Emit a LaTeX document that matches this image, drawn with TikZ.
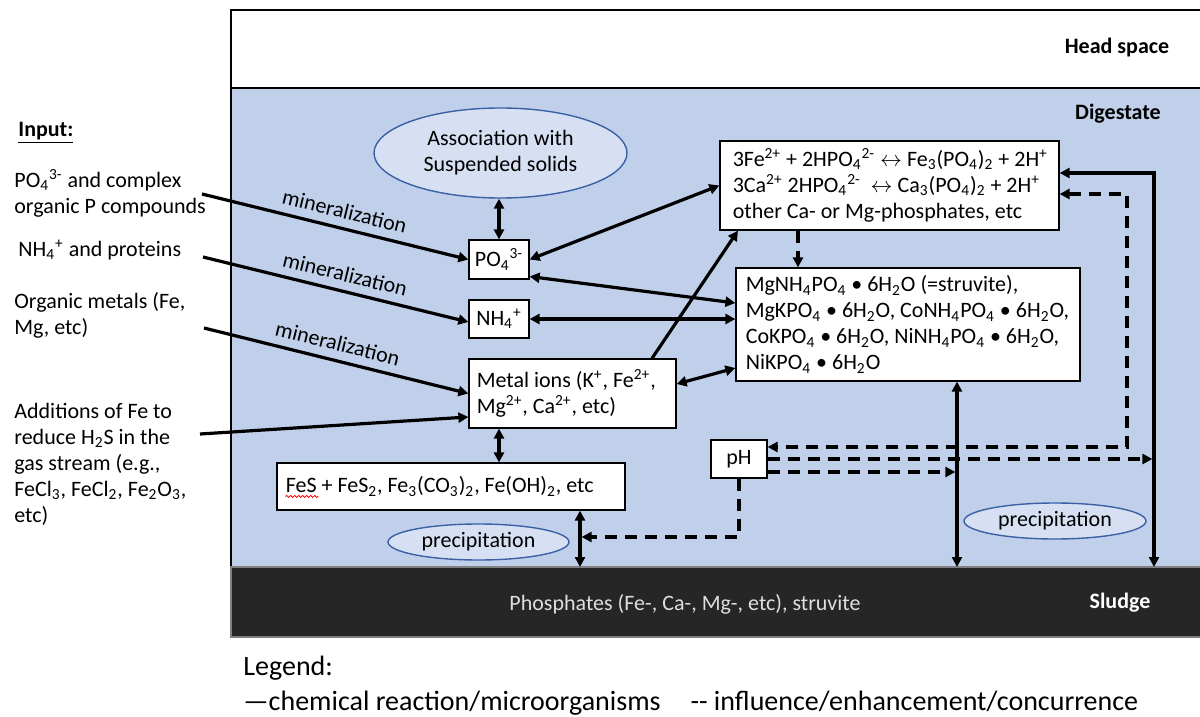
\documentclass[tikz,border=0pt]{standalone}
\usepackage{fontspec}
\setmainfont{Carlito}
\usetikzlibrary{arrows.meta,shapes.geometric,calc,decorations.pathmorphing}

\definecolor{digest}{RGB}{193,208,234}
\definecolor{ovalfill}{RGB}{214,224,242}
\definecolor{ovalline}{RGB}{58,96,165}
\definecolor{sludgefill}{RGB}{38,38,38}
\definecolor{phostext}{RGB}{222,222,222}

\newcommand\chsb[1]{\textsubscript{#1}}
\newcommand\chsp[1]{\textsuperscript{#1}}
\newcommand\bodyfont{\fontsize{11}{13}\selectfont}
\newcommand\legendfont{\fontsize{14}{17}\selectfont}

\begin{document}
\begin{tikzpicture}[x=0.5pt, y=-0.5pt, font=\bodyfont,
  >={Triangle[length=5pt,width=5pt]},
  band/.style={draw=black, line width=0.6pt, inner sep=0, outer sep=0, anchor=north west},
  box/.style={draw=black, line width=0.6pt, fill=white, inner sep=0},
  oval/.style={ellipse, draw=ovalline, line width=0.7pt, fill=ovalfill, inner sep=0, align=center},
  boxtext/.style={inner sep=0, anchor=west, align=left},
  rxn/.style={line width=1.6pt, <->},
  rxnto/.style={line width=1.6pt, ->},
  infl/.style={line width=1.6pt, dash pattern=on 6pt off 4pt},
  lbl/.style={sloped, above=3pt, inner sep=1pt},
  spell/.style={draw=red, line width=0.4pt, decorate, decoration={snake, amplitude=0.5pt, segment length=2pt}}]

\useasboundingbox (0,0) rectangle (1200,717);

% digester layers
\node[band, fill=white, minimum width=490pt, minimum height=39pt] (head) at (231,10) {};
\node[band, fill=digest, minimum width=490pt, minimum height=239.5pt] (dig) at (231,88) {};
\node[band, draw=black!50, fill=sludgefill, minimum width=490pt, minimum height=35pt] (sludge) at (231,567) {};

\node[font=\bodyfont\bfseries] (headlbl) at (1117,48) {Head space};
\node[font=\bodyfont\bfseries] (diglbl) at (1118,114) {Digestate};
\node[font=\bodyfont\bfseries, text=white] (sludgelbl) at (1120,603) {Sludge};
\node[text=phostext] (phos) at (685,604) {Phosphates (Fe-, Ca-, Mg-, etc), struvite};

% ovals
\node[oval, minimum width=126.5pt, minimum height=45pt] (assoc) at (500.5,153) {Association with\\Suspended solids};
\node[oval, minimum width=90.5pt, minimum height=18pt] (precipL) at (478.5,542) {precipitation};
\node[oval, minimum width=91pt, minimum height=18pt] (precipR) at (1055,521) {precipitation};

% boxes
\node[box, minimum width=169.5pt, minimum height=44.5pt] (rx) at (889.5,185.5) {};
\node[boxtext] (rxtext) at ([xshift=6.5pt]rx.west) {3Fe\chsp{2+} + 2HPO\chsb{4}\chsp{2-} $\leftrightarrow$ Fe\chsb{3}(PO\chsb{4})\chsb{2} + 2H\chsp{+}\\3Ca\chsp{2+} 2HPO\chsb{4}\chsp{2-}\ \ $\leftrightarrow$ Ca\chsb{3}(PO\chsb{4})\chsb{2} + 2H\chsp{+}\\other Ca- or Mg-phosphates, etc};

\node[box, minimum width=172pt, minimum height=56.5pt] (sv) at (908,324.5) {};
\node[boxtext] (svtext) at ([xshift=5pt]sv.west) {MgNH\chsb{4}PO\chsb{4} • 6H\chsb{2}O (=struvite),\\MgKPO\chsb{4} • 6H\chsb{2}O, CoNH\chsb{4}PO\chsb{4} • 6H\chsb{2}O,\\CoKPO\chsb{4} • 6H\chsb{2}O, NiNH\chsb{4}PO\chsb{4} • 6H\chsb{2}O,\\NiKPO\chsb{4} • 6H\chsb{2}O};

\node[box, minimum width=30pt, minimum height=19.5pt] (po4) at (499,259.5) {PO\chsb{4}\chsp{3-}};
\node[box, minimum width=30pt, minimum height=19pt] (nh4) at (499,319) {NH\chsb{4}\chsp{+}};

\node[box, minimum width=103.5pt, minimum height=34.5pt] (metal) at (572.5,393.5) {};
\node[boxtext] (metaltext) at ([xshift=4pt]metal.west) {Metal ions (K\chsp{+}, Fe\chsp{2+},\\Mg\chsp{2+}, Ca\chsp{2+}, etc)};

\node[box, minimum width=174pt, minimum height=23.5pt] (fes) at (451,486.5) {};
\node[boxtext] (festext) at ([xshift=4.5pt]fes.west) {FeS + FeS\chsb{2}, Fe\chsb{3}(CO\chsb{3})\chsb{2}, Fe(OH)\chsb{2}, etc};
\draw[spell] ([yshift=-1.8pt]festext.base west) -- ++(16.5pt,0);

\node[box, minimum width=28pt, minimum height=19pt] (ph) at (739,459) {pH};

% inputs
\node[boxtext, font=\bodyfont\bfseries] (inhead) at (18,133) {\underline{Input:}};
\node[boxtext] (in1) at (14,193.5) {PO\chsb{4}\chsp{3-} and complex\\organic P compounds};
\node[boxtext] (in2) at (18,250) {NH\chsb{4}\chsp{+} and proteins};
\node[boxtext] (in3) at (14,315) {Organic metals (Fe,\\Mg, etc)};
\node[boxtext] (in4) at (14,464) {Additions of Fe to\\reduce H\chsb{2}S in the\\gas stream (e.g.,\\FeCl\chsb{3}, FeCl\chsb{2}, Fe\chsb{2}O\chsb{3},\\etc)};

\coordinate (c1) at (202,194);
\coordinate (c2) at (203,257);
\coordinate (c3) at (204,328);
\coordinate (c4) at (200,434);

% feet of the lines reaching the sludge
\coordinate (sL) at (580,567);
\coordinate (sM) at (957,567);
\coordinate (sR) at (1154,567);
\coordinate (fesmid) at (580,537);
\coordinate (loop) at (1127,447);
\coordinate (rxb) at ([xshift=-45.75pt]rx.south);

% chemical reactions / microorganisms
\draw[rxnto] (c1) -- node[lbl, pos=0.52] {mineralization} (po4.west);
\draw[rxnto] (c2) -- node[lbl, pos=0.52] {mineralization} ([yshift=-1.5pt]nh4.west);
\draw[rxnto] (c3) -- node[lbl, pos=0.49] {mineralization} (metal.west);
\draw[rxnto] (c4) -- ([yshift=-11.75pt]metal.west);

\draw[rxn] (po4.north) -- (po4.north |- assoc.south);
\draw[rxn] (po4.east) -- (rx.west);
\draw[rxn] ([yshift=-8.5pt]po4.east) -- ([yshift=10.75pt]sv.west);
\draw[rxn] (nh4.east) -- (nh4.east -| sv.west);
\draw[rxn] ([yshift=4.75pt]metal.east) -- ([yshift=-21.75pt]sv.west);
\draw[rxnto] ([xshift=39.75pt]metal.north) -- ([xshift=-75.75pt]rx.south);
\draw[rxn] (po4 |- metal.south) -- (po4 |- fes.north);
\draw[rxn] (fes.south -| sL) -- (sL);
\draw[rxn] (sv.south -| sM) -- (sM);
\draw[rxn] ([yshift=6.25pt]rx.east) -| (sR);

% influence / enhancement / concurrence
\draw[infl, ->] (rxb) -- (rxb |- sv.north);
\draw[infl, <->] ([yshift=-4.25pt]rx.east) -| (loop) -- (loop -| ph.east);
\draw[infl, ->] (ph.east) -- ($(ph.east -| sR)+(-0.8pt,0)$);
\draw[infl, ->] ([yshift=-6.5pt]ph.east) -- ($([yshift=-6.5pt]ph.east -| sM)+(-0.8pt,0)$);
\draw[infl, ->] (ph.south) |- ($(fesmid)+(0.8pt,0)$);

% legend
\node[anchor=west, inner sep=0, font=\legendfont] (leg) at (243,668) {Legend:};
\node[anchor=west, inner sep=0, font=\legendfont] (legline) at (243,703) {—chemical reaction/microorganisms\hspace{15pt}-{}- influence/enhancement/concurrence};

\end{tikzpicture}
\end{document}
